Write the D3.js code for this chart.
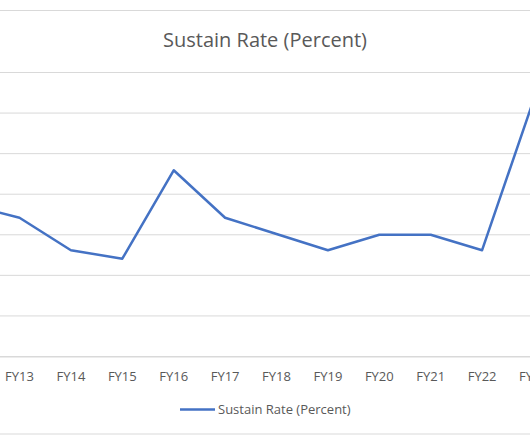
<!DOCTYPE html>
<html>
<head>
<meta charset="utf-8">
<script src="https://cdn.jsdelivr.net/npm/d3@7"></script>
<style>
  html, body { margin: 0; padding: 0; background: #fff; overflow: hidden; }
  svg { display: block; }
  text { font-family: "Open Sans", "Noto Sans", sans-serif; fill: #595959; }
</style>
</head>
<body>
<svg id="chart" width="530" height="442"></svg>
<script>
const categories = ["FY12","FY13","FY14","FY15","FY16","FY17","FY18","FY19","FY20","FY21","FY22","FY23"];
const sustainRate = [37.4, 34.2, 26.2, 24.1, 45.9, 34.2, 30.2, 26.2, 30.0, 30.0, 26.2, 63.2];
const yTicks = [0, 10, 20, 30, 40, 50, 60, 70];
const seriesName = "Sustain Rate (Percent)";
const chartTitle = "Sustain Rate (Percent)";

const svg = d3.select("#chart");
const W = 530, H = 442;

// outer chart border (left/right edges cropped off)
svg.append("rect")
  .attr("x", -10).attr("y", 10.5)
  .attr("width", W + 20).attr("height", 423.5)
  .attr("fill", "#fff").attr("stroke", "#d9d9d9").attr("stroke-width", 1);

const x = d3.scaleBand()
  .domain(categories)
  .range([-57.6, 559.2])
  .padding(0);

const y = d3.scaleLinear()
  .domain([0, 70])
  .range([356.5, 72.5]);

// gridlines
svg.append("g")
  .selectAll("line")
  .data(yTicks)
  .join("line")
  .attr("x1", -10).attr("x2", W + 10)
  .attr("y1", d => y(d)).attr("y2", d => y(d))
  .attr("stroke", "#d9d9d9").attr("stroke-width", 1);

// x axis labels (FY12 label lies fully outside the cropped view)
const xAxis = d3.axisBottom(x).tickSize(0).tickPadding(0)
  .tickValues(categories.slice(1));
const gx = svg.append("g")
  .attr("transform", `translate(0, ${y(0)})`)
  .call(xAxis);
gx.select(".domain").attr("stroke", "#d9d9d9");
gx.selectAll("text")
  .attr("dy", null)
  .attr("y", 24.5)
  .attr("font-size", 13)
  .style("fill", "#595959")
  .attr("font-family", "'Open Sans', sans-serif");

// line
const line = d3.line()
  .x((d, i) => x(categories[i]) + x.bandwidth() / 2)
  .y(d => y(d));

svg.append("path")
  .datum(sustainRate)
  .attr("d", line)
  .attr("fill", "none")
  .attr("stroke", "#4472C4")
  .attr("stroke-width", 2.5)
  .attr("stroke-linejoin", "round");

// title
svg.append("text")
  .attr("x", 265).attr("y", 46.5)
  .attr("text-anchor", "middle")
  .attr("font-size", 20)
  .text(chartTitle);

// legend
const lg = svg.append("g").attr("transform", "translate(180, 409.5)");
lg.append("line")
  .attr("x1", 0).attr("x2", 35)
  .attr("y1", 0).attr("y2", 0)
  .attr("stroke", "#4472C4").attr("stroke-width", 2.5);
lg.append("text")
  .attr("x", 38).attr("y", 4.5)
  .attr("font-size", 13)
  .text(seriesName);
</script>
</body>
</html>
